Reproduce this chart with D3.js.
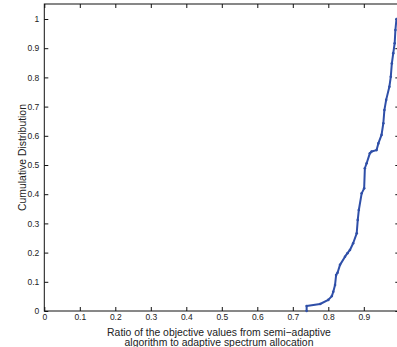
<!DOCTYPE html>
<html>
<head>
<meta charset="utf-8">
<script src="https://cdn.jsdelivr.net/npm/d3@7"></script>
<style>
  body { margin: 0; background: #fff; }
  svg text { font-family: "Liberation Sans", Arial, sans-serif; fill: #222; }
</style>
</head>
<body>
<svg id="chart" width="397" height="347"></svg>
<script>
// axis ticks
var xTicks = [0, 0.1, 0.2, 0.3, 0.4, 0.5, 0.6, 0.7, 0.8, 0.9, 1];
var yTicks = [0, 0.1, 0.2, 0.3, 0.4, 0.5, 0.6, 0.7, 0.8, 0.9, 1];

// CDF curve
var ratio = [0.739, 0.739, 0.777, 0.800, 0.810, 0.814, 0.819, 0.822, 0.826, 0.833, 0.847, 0.854, 0.861, 0.870, 0.880, 0.883, 0.886, 0.894, 0.901, 0.903, 0.908, 0.917, 0.922, 0.936, 0.941, 0.950, 0.955, 0.958, 0.963, 0.972, 0.976, 0.979, 0.983, 0.987, 0.989, 0.992];
var cdf = [0, 0.017, 0.024, 0.038, 0.051, 0.066, 0.089, 0.123, 0.131, 0.158, 0.186, 0.198, 0.209, 0.232, 0.266, 0.312, 0.346, 0.403, 0.420, 0.489, 0.506, 0.540, 0.546, 0.551, 0.574, 0.603, 0.643, 0.688, 0.723, 0.768, 0.802, 0.848, 0.883, 0.917, 0.962, 1.0];

var xLabel = ['Ratio of the objective values from semi\u2212adaptive', 'algorithm to adaptive spectrum allocation'];
var yLabel = 'Cumulative Distribution';

(function() {
	var svg = d3.select('#chart');

	var mLeft = 44.3, mRight = 399.3, mTop = 4, mBottom = 311;

	var x = d3.scaleLinear().domain([0, 1]).range([mLeft, mRight]);
	var y = d3.scaleLinear().domain([0, 1]).range([mBottom, 19]);

	// frame
	svg.append('rect')
		.attr('x', mLeft).attr('y', mTop)
		.attr('width', mRight - mLeft).attr('height', mBottom - mTop)
		.attr('fill', 'none').attr('stroke', '#111').attr('stroke-width', 1);

	var tickLen = 4;
	var fmt = function(d) { return d3.format('')(+d.toFixed(1)); };

	// bottom axis (ticks inward)
	var gx = svg.append('g')
		.attr('transform', 'translate(0,' + mBottom + ')')
		.call(d3.axisBottom(x).tickValues(xTicks).tickSizeInner(-tickLen).tickSizeOuter(0).tickPadding(3).tickFormat(fmt));
	gx.select('.domain').remove();
	gx.selectAll('line').attr('stroke', '#111');
	gx.selectAll('text').attr('font-size', 8.5).attr('fill', '#222');

	// top ticks
	svg.append('g')
		.attr('transform', 'translate(0,' + mTop + ')')
		.call(d3.axisTop(x).tickValues(xTicks).tickSizeInner(-tickLen).tickSizeOuter(0).tickFormat(''))
		.call(function(g) { g.select('.domain').remove(); g.selectAll('line').attr('stroke', '#111'); });

	// left axis
	var gy = svg.append('g')
		.attr('transform', 'translate(' + mLeft + ',0)')
		.call(d3.axisLeft(y).tickValues(yTicks).tickSizeInner(-tickLen).tickSizeOuter(0).tickPadding(5).tickFormat(fmt));
	gy.select('.domain').remove();
	gy.selectAll('line').attr('stroke', '#111');
	gy.selectAll('text').attr('font-size', 8.5).attr('fill', '#222');

	// right ticks
	svg.append('g')
		.attr('transform', 'translate(' + mRight + ',0)')
		.call(d3.axisRight(y).tickValues(yTicks).tickSizeInner(-tickLen).tickSizeOuter(0).tickFormat(''))
		.call(function(g) { g.select('.domain').remove(); g.selectAll('line').attr('stroke', '#111'); });

	// curve
	var pts = ratio.map(function(r, i) { return [r, cdf[i]]; });
	var line = d3.line().x(function(d) { return x(d[0]); }).y(function(d) { return y(d[1]); });

	svg.append('path')
		.datum(pts)
		.attr('d', line)
		.attr('fill', 'none')
		.attr('stroke', '#2f4fa8')
		.attr('stroke-width', 2)
		.attr('stroke-linejoin', 'round');

	svg.selectAll('.dot')
		.data(pts)
		.enter().append('circle')
		.attr('class', 'dot')
		.attr('cx', function(d) { return x(d[0]); })
		.attr('cy', function(d) { return y(d[1]); })
		.attr('r', 1.3)
		.attr('fill', '#2f4fa8');

	// labels
	svg.append('text')
		.attr('x', 219).attr('y', 335.5)
		.attr('text-anchor', 'middle').attr('font-size', 10.4)
		.text(xLabel[0]);
	svg.append('text')
		.attr('x', 219).attr('y', 345.5)
		.attr('text-anchor', 'middle').attr('font-size', 10.4)
		.text(xLabel[1]);

	svg.append('text')
		.attr('transform', 'translate(25.5,' + ((mBottom + mTop) / 2) + ') rotate(-90)')
		.attr('text-anchor', 'middle').attr('font-size', 10.4)
		.text(yLabel);
})();
</script>
</body>
</html>
